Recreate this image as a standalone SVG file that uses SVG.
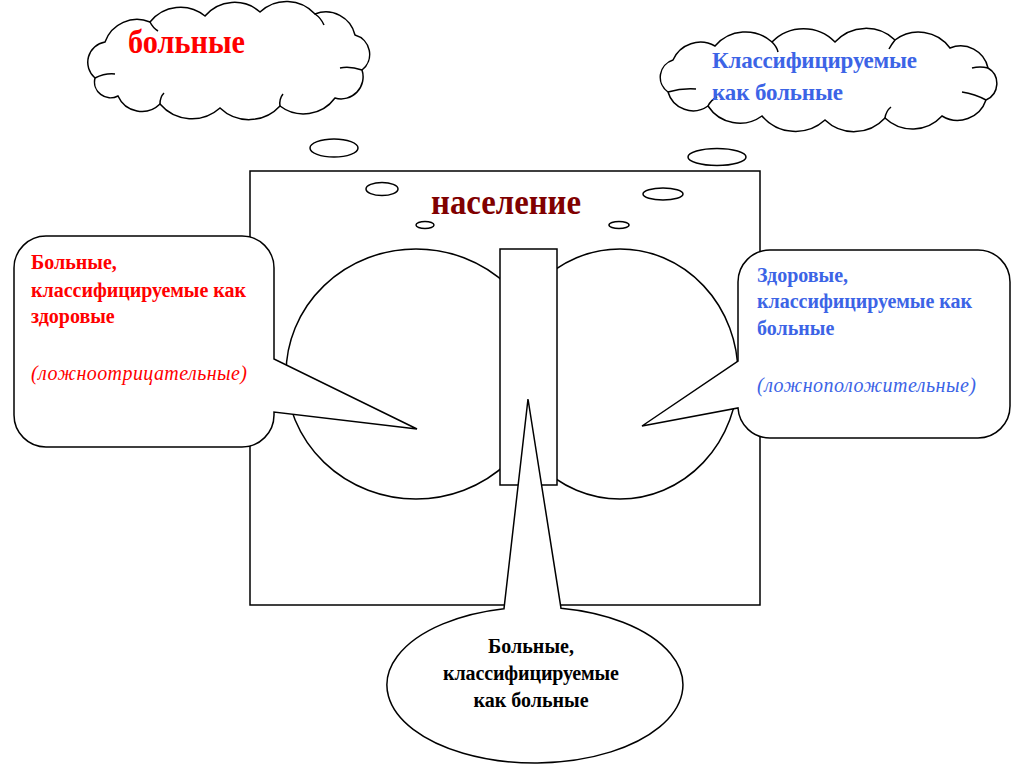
<svg xmlns="http://www.w3.org/2000/svg" width="1024" height="767" viewBox="0 0 1024 767">
<style>
.ln{fill:#fff;stroke:#000;stroke-width:1.5}
.in{fill:none;stroke:#000;stroke-width:1.5}
.t{font-family:"Liberation Serif","Times New Roman",serif;font-weight:bold;font-size:20px}
.it{font-family:"Liberation Serif","Times New Roman",serif;font-style:italic;font-size:20px}
.red{fill:#f00}
.blue{fill:#3c64e6}
</style>
<rect width="1024" height="767" fill="#fff"/>

<g id="population">
<rect class="ln" x="250" y="171" width="510" height="434"/>
<ellipse class="ln" cx="416" cy="374" rx="130" ry="125"/>
<ellipse class="ln" cx="620" cy="374" rx="118" ry="125"/>
<rect class="ln" x="500" y="249" width="57" height="236"/>
<text x="431" y="214" font-family="Liberation Serif, serif" font-weight="bold" font-size="36" fill="#800000" textLength="150" lengthAdjust="spacingAndGlyphs">население</text>
</g>

<g id="bubbles">
<ellipse class="ln" cx="334" cy="148" rx="24" ry="9"/>
<ellipse class="ln" cx="382" cy="189" rx="16" ry="6.5"/>
<ellipse class="ln" cx="425" cy="225" rx="9" ry="3.5"/>
<ellipse class="ln" cx="663" cy="194" rx="20" ry="6"/>
<ellipse class="ln" cx="619" cy="225" rx="10" ry="3.5"/>
<ellipse class="ln" cx="717" cy="157" rx="29" ry="8.5"/>
</g>

<g id="false-negative">
<path class="ln" d="M46,236 H242 A32,32 0 0 1 274,268 V359 L417,429 L274,412 V415 A32,32 0 0 1 242,447 H46 A32,32 0 0 1 14,415 V268 A32,32 0 0 1 46,236 Z"/>
<text class="t red" x="31" y="269">Больные,</text>
<text class="t red" x="31" y="297" textLength="215">классифицируемые как</text>
<text class="t red" x="31" y="323">здоровые</text>
<text class="it red" x="31" y="380" textLength="216">(ложноотрицательные)</text>
</g>

<g id="false-positive">
<path class="ln" d="M770,250 H978 A32,32 0 0 1 1010,282 V406 A32,32 0 0 1 978,438 H770 A32,32 0 0 1 738,408 L642,426 L738,361 V282 A32,32 0 0 1 770,250 Z"/>
<text class="t blue" x="757" y="282">Здоровые,</text>
<text class="t blue" x="757" y="308" textLength="215">классифицируемые как</text>
<text class="t blue" x="757" y="335">больные</text>
<text class="it blue" x="757" y="392" textLength="219">(ложноположительные)</text>
</g>

<g id="true-positive">
<path class="ln" d="M504,608.7 L528,399 L561,608.2 A148,78 0 1 1 504,608.7 Z"/>
<text class="t" x="531" y="653" text-anchor="middle">Больные,</text>
<text class="t" x="531" y="680" text-anchor="middle" textLength="176">классифицируемые</text>
<text class="t" x="531" y="707" text-anchor="middle">как больные</text>
</g>

<g id="cloud-sick">
<path class="ln" d="M95,78 A20.6,20.6 0 0 1 105,42 A34,34 0 0 1 150,22 A38.7,38.7 0 0 1 205,16 A38.6,38.6 0 0 1 260,12 A38.5,38.5 0 0 1 315,14 A30,30 0 0 1 355,35 A20,20 0 0 1 362,70 A22,22 0 0 1 335,98 A39,39 0 0 1 280,106 A42,42 0 0 1 220,108 A42,42 0 0 1 160,104 A26,26 0 0 1 118,96 A16,16 0 0 1 95,78 Z"/>
<path class="in" d="M95,78 Q105,73 115,74"/>
<path class="in" d="M150,22 Q153,28 158,31"/>
<path class="in" d="M315,14 Q321,18 324,25"/>
<path class="in" d="M362,70 Q350,66 340,68"/>
<path class="in" d="M280,106 Q279,99 283,94"/>
<path class="in" d="M160,104 Q160,97 164,93"/>
<text x="128" y="53" font-family="Liberation Serif, serif" font-weight="bold" font-size="34" fill="#f00" textLength="117" lengthAdjust="spacingAndGlyphs">больные</text>
</g>

<g id="cloud-classified">
<path class="ln" d="M668,92 A18,18 0 0 1 673,60 A30,30 0 0 1 715,46 A40,40 0 0 1 772,42 A44,44 0 0 1 835,42 A42,42 0 0 1 895,40 A39,39 0 0 1 950,48 A28,28 0 0 1 988,68 A18,18 0 0 1 986,100 A30,30 0 0 1 942,116 A40,40 0 0 1 885,118 A42,42 0 0 1 825,120 A44,44 0 0 1 762,116 A38,38 0 0 1 708,106 A26,26 0 0 1 668,92 Z"/>
<path class="in" d="M668,92 Q682,88 696,89"/>
<path class="in" d="M772,42 Q777,47 778,52"/>
<path class="in" d="M895,40 Q891,45 889,49"/>
<path class="in" d="M988,68 Q980,66 972,68"/>
<path class="in" d="M986,100 Q975,94 962,92"/>
<path class="in" d="M885,118 Q886,111 891,107"/>
<path class="in" d="M708,106 Q711,100 717,97"/>
<text class="blue" x="712" y="68" font-family="Liberation Serif, serif" font-weight="bold" font-size="23" textLength="205">Классифицируемые</text>
<text class="blue" x="712" y="100" font-family="Liberation Serif, serif" font-weight="bold" font-size="23" textLength="131">как больные</text>
</g>
</svg>
